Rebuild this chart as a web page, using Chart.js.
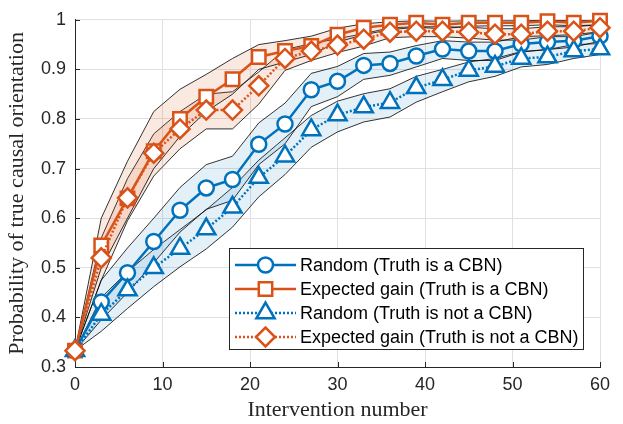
<!DOCTYPE html>
<html>
<head>
<meta charset="utf-8">
<script src="https://cdn.jsdelivr.net/npm/chart.js@4/dist/chart.umd.min.js"></script>
<style>
  html, body { margin: 0; padding: 0; background: #fff; }
</style>
</head>
<body>
<canvas id="chart" width="623" height="424"></canvas>
<script>
// intervention numbers where the curves are sampled
const xValues = [0, 3, 6, 9, 12, 15, 18, 21, 24, 27, 30, 33, 36, 39, 42, 45, 48, 51, 54, 57, 60];

// Random (Truth is a CBN)
const randomCbn      = [0.333, 0.431, 0.490, 0.553, 0.616, 0.661, 0.678, 0.749, 0.790, 0.859, 0.876, 0.908, 0.912, 0.927, 0.941, 0.937, 0.937, 0.951, 0.955, 0.958, 0.967];
const randomCbnUp    = [0.333, 0.475, 0.540, 0.600, 0.662, 0.708, 0.725, 0.792, 0.832, 0.892, 0.906, 0.932, 0.935, 0.948, 0.958, 0.955, 0.955, 0.966, 0.968, 0.970, 0.976];
const randomCbnLow   = [0.333, 0.395, 0.450, 0.510, 0.572, 0.618, 0.636, 0.708, 0.750, 0.825, 0.845, 0.880, 0.888, 0.905, 0.922, 0.918, 0.918, 0.935, 0.940, 0.945, 0.957];

// Expected gain (Truth is a CBN)
const gainCbn        = [0.333, 0.545, 0.640, 0.735, 0.800, 0.845, 0.880, 0.925, 0.937, 0.947, 0.970, 0.984, 0.990, 0.994, 0.990, 0.994, 0.994, 0.994, 0.997, 0.994, 0.998];
const gainCbnUp      = [0.333, 0.600, 0.715, 0.815, 0.860, 0.890, 0.922, 0.950, 0.958, 0.967, 0.983, 0.992, 0.996, 0.998, 0.997, 0.998, 0.998, 0.998, 0.999, 0.998, 0.999];
const gainCbnLow     = [0.333, 0.500, 0.600, 0.700, 0.765, 0.815, 0.850, 0.900, 0.915, 0.930, 0.955, 0.970, 0.980, 0.985, 0.982, 0.987, 0.988, 0.988, 0.990, 0.988, 0.990];

// Random (Truth is not a CBN)
const randomNot      = [0.333, 0.406, 0.455, 0.500, 0.539, 0.578, 0.622, 0.682, 0.725, 0.778, 0.808, 0.824, 0.833, 0.863, 0.879, 0.898, 0.906, 0.922, 0.925, 0.937, 0.941];
const randomNotUp    = [0.333, 0.440, 0.492, 0.537, 0.577, 0.617, 0.662, 0.717, 0.762, 0.807, 0.836, 0.851, 0.861, 0.886, 0.900, 0.915, 0.922, 0.936, 0.940, 0.950, 0.952];
const randomNotLow   = [0.333, 0.372, 0.418, 0.462, 0.502, 0.538, 0.582, 0.643, 0.688, 0.743, 0.774, 0.794, 0.804, 0.834, 0.855, 0.875, 0.886, 0.905, 0.910, 0.922, 0.930];

// Expected gain (Truth is not a CBN)
const gainNot        = [0.333, 0.520, 0.641, 0.731, 0.780, 0.818, 0.818, 0.867, 0.922, 0.937, 0.949, 0.961, 0.975, 0.977, 0.977, 0.975, 0.971, 0.971, 0.977, 0.977, 0.984];
const gainNotUp      = [0.333, 0.560, 0.680, 0.770, 0.815, 0.850, 0.855, 0.895, 0.940, 0.952, 0.962, 0.972, 0.984, 0.986, 0.986, 0.985, 0.982, 0.982, 0.986, 0.986, 0.990];
const gainNotLow     = [0.333, 0.475, 0.595, 0.685, 0.740, 0.780, 0.780, 0.830, 0.898, 0.918, 0.934, 0.947, 0.964, 0.966, 0.966, 0.963, 0.959, 0.959, 0.966, 0.966, 0.975];

const seriesLabels = [
    'Random (Truth is a CBN)',
    'Expected gain (Truth is a CBN)',
    'Random (Truth is not a CBN)',
    'Expected gain (Truth is not a CBN)'
];

const BLUE = '#0072BD';
const ORANGE = '#D95319';
const BLUE_FILL = 'rgba(0, 114, 189, 0.11)';
const ORANGE_FILL = 'rgba(217, 83, 25, 0.13)';

function pts(values) {
    return values.map((v, i) => ({ x: xValues[i], y: v }));
}

function bandPair(low, up, fillColor) {
    const edge = {
        borderColor: '#000',
        borderWidth: 0.8,
        pointRadius: 0,
        tension: 0,
        order: 10,
        clip: false
    };
    return [
        Object.assign({ data: pts(low), fill: false }, edge),
        Object.assign({ data: pts(up), fill: '-1', backgroundColor: fillColor }, edge)
    ];
}

const lineStyles = [
    { color: BLUE,   style: 'circle',   radius: 7.5, dash: [] },
    { color: ORANGE, style: 'rect',     radius: 9.5, dash: [] },
    { color: BLUE,   style: 'triangle', radius: 10.5, dash: [2, 2] },
    { color: ORANGE, style: 'rectRot',  radius: 9.5, dash: [2, 2] }
];

function lineSet(values, idx, order) {
    const s = lineStyles[idx];
    return {
        label: seriesLabels[idx],
        data: pts(values),
        borderColor: s.color,
        borderWidth: 2.5,
        borderDash: s.dash,
        pointStyle: s.style,
        pointRadius: s.radius,
        pointBorderWidth: 2.5,
        pointBorderColor: s.color,
        pointBackgroundColor: '#fff',
        tension: 0,
        fill: false,
        order: order,
        clip: false
    };
}

const datasets = [
    lineSet(randomCbn, 0, 3),
    lineSet(gainCbn, 1, 2),
    lineSet(randomNot, 2, 1),
    lineSet(gainNot, 3, 0)
].concat(
    bandPair(randomCbnLow, randomCbnUp, BLUE_FILL),
    bandPair(randomNotLow, randomNotUp, BLUE_FILL),
    bandPair(gainCbnLow, gainCbnUp, ORANGE_FILL),
    bandPair(gainNotLow, gainNotUp, ORANGE_FILL)
);

// small inward tick marks on the left and bottom axes
const innerTicks = {
    id: 'innerTicks',
    afterDatasetsDraw(chart) {
        const ctx = chart.ctx;
        const area = chart.chartArea;
        const xs = chart.scales.x, ys = chart.scales.y;
        ctx.save();
        ctx.strokeStyle = '#262626';
        ctx.lineWidth = 1;
        ctx.beginPath();
        xs.ticks.forEach(t => {
            const px = Math.round(xs.getPixelForValue(t.value)) + 0.5;
            ctx.moveTo(px, area.bottom);
            ctx.lineTo(px, area.bottom - 5);
        });
        ys.ticks.forEach(t => {
            const py = Math.round(ys.getPixelForValue(t.value)) + 0.5;
            ctx.moveTo(area.left, py);
            ctx.lineTo(area.left + 5, py);
        });
        ctx.stroke();
        ctx.restore();
    }
};

// legend box drawn inside the plot, like the original figure
const boxLegend = {
    id: 'boxLegend',
    afterDraw(chart) {
        const ctx = chart.ctx;
        const left = 229.5, top = 248.5, w = 354, h = 101;
        ctx.save();
        ctx.fillStyle = '#fff';
        ctx.fillRect(left, top, w, h);
        ctx.strokeStyle = '#262626';
        ctx.lineWidth = 1;
        ctx.strokeRect(left, top, w, h);
        const rows = [265, 289, 313, 337];
        rows.forEach((y, i) => {
            const s = lineStyles[i];
            ctx.strokeStyle = s.color;
            ctx.lineWidth = 2.5;
            ctx.setLineDash(s.dash);
            ctx.beginPath();
            ctx.moveTo(235, y);
            ctx.lineTo(296, y);
            ctx.stroke();
            ctx.setLineDash([]);
            ctx.fillStyle = '#fff';
            Chart.helpers.drawPoint(ctx, {
                pointStyle: s.style,
                radius: s.radius,
                borderWidth: 2.5,
                rotation: 0
            }, 265.5, y);
            ctx.fillStyle = '#000';
            ctx.font = '18px "Liberation Sans", Arial, sans-serif';
            ctx.textBaseline = 'middle';
            ctx.textAlign = 'left';
            ctx.fillText(seriesLabels[i], 300, y + 1);
        });
        ctx.restore();
    }
};

const tickFont = { family: '"Liberation Sans", Arial, sans-serif', size: 18 };
const titleFont = { family: '"Liberation Serif", "Times New Roman", serif', size: 22 };

new Chart(document.getElementById('chart'), {
    type: 'line',
    data: { datasets: datasets },
    options: {
        responsive: false,
        animation: false,
        layout: { padding: { top: 10, right: 23, left: 0, bottom: 0 } },
        plugins: {
            legend: { display: false },
            tooltip: { enabled: false }
        },
        scales: {
            x: {
                type: 'linear',
                min: 0,
                max: 60,
                ticks: {
                    stepSize: 10,
                    color: '#262626',
                    font: tickFont,
                    padding: 7,
                    maxRotation: 0
                },
                grid: { color: '#e0e0e0', drawTicks: false },
                border: { color: '#262626', width: 1 },
                title: {
                    display: true,
                    text: 'Intervention number',
                    color: '#262626',
                    font: titleFont,
                    padding: { top: 0, bottom: 1 }
                },
                afterFit(scale) { scale.height = 57; }
            },
            y: {
                min: 0.3,
                max: 1,
                ticks: {
                    stepSize: 0.1,
                    color: '#262626',
                    font: tickFont,
                    padding: 9,
                    callback: v => String(Number(v.toFixed(1)))
                },
                grid: { color: '#e0e0e0', drawTicks: false },
                border: { color: '#262626', width: 1 },
                title: {
                    display: true,
                    text: 'Probability of true causal orientation',
                    color: '#262626',
                    font: titleFont,
                    padding: { top: 4, bottom: 0 }
                },
                afterFit(scale) { scale.width = 75; }
            }
        }
    },
    plugins: [innerTicks, boxLegend]
});
</script>
</body>
</html>
